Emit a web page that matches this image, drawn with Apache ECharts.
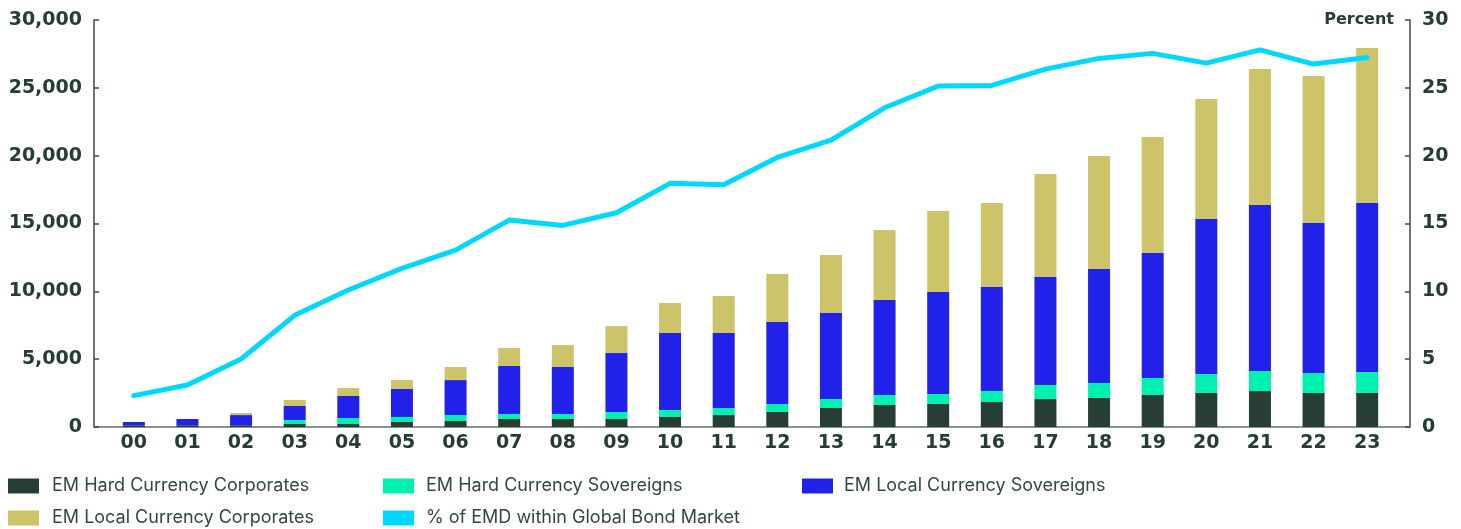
<!DOCTYPE html>
<html>
<head>
<meta charset="utf-8">
<script src="https://cdn.jsdelivr.net/npm/echarts@6/dist/echarts.min.js"></script>
<style>
  html, body { margin: 0; padding: 0; background: #fff; }
  #chart { width: 1461px; height: 529px; }
</style>
</head>
<body>
<div id="chart"></div>
<script>
var years = ['00','01','02','03','04','05','06','07','08','09','10','11','12','13','14','15','16','17','18','19','20','21','22','23']
var hardCorp = [130, 130, 130, 220, 220, 370, 440, 590, 590, 590, 740, 880, 1110, 1400, 1620, 1700, 1840, 2060, 2140, 2360, 2510, 2650, 2510, 2510]
var hardSov = [0, 0, 0, 300, 440, 370, 440, 370, 370, 520, 510, 520, 590, 660, 740, 730, 810, 1040, 1100, 1250, 1390, 1480, 1470, 1540]
var localSov = [240, 460, 750, 1030, 1630, 2060, 2580, 3540, 3460, 4340, 5680, 5530, 6040, 6340, 7000, 7520, 7670, 7960, 8410, 9220, 11430, 12230, 11060, 12460]
var localCorp = [0, 0, 150, 440, 580, 660, 960, 1320, 1620, 1990, 2210, 2730, 3540, 4280, 5160, 5970, 6190, 7590, 8320, 8540, 8840, 10020, 10830, 11420]
var emdShare = [2.31, 3.1, 5.01, 8.23, 10.1, 11.69, 13.04, 15.25, 14.86, 15.79, 17.96, 17.86, 19.87, 21.15, 23.53, 25.13, 25.18, 26.38, 27.17, 27.54, 26.82, 27.8, 26.75, 27.24]
var leftTicks = [0, 30000, 5000]
var rightTicks = [0, 30, 5]

var ink = '#263d33'
var axisFont = { color: ink, fontFamily: 'DejaVu Sans', fontWeight: 'bold', fontSize: 19 }
var legendText = { color: '#2e4a3d', fontFamily: 'Inter', fontSize: 18, lineHeight: 18 }

var myChart = echarts.init(document.getElementById('chart'))
myChart.setOption({
  animation: false,
  grid: [
    { left: 107, right: 67, top: 20, bottom: 102 },
    { left: 94, right: 51, top: 20, bottom: 102 }
  ],
  legend: [
    {
      orient: 'vertical', left: 8, top: 477, padding: 0, icon: 'rect', itemWidth: 31, itemHeight: 15, itemGap: 14,
      textStyle: Object.assign({ padding: [0, 0, 0, 8] }, legendText),
      data: ['EM Hard Currency Corporates', 'EM Local Currency Corporates']
    },
    {
      orient: 'vertical', left: 383, top: 477, padding: 0, icon: 'rect', itemWidth: 31, itemHeight: 15, itemGap: 14,
      textStyle: Object.assign({ padding: [0, 0, 0, 7] }, legendText),
      data: ['EM Hard Currency Sovereigns', '% of EMD within Global Bond Market']
    },
    {
      orient: 'vertical', left: 802, top: 477, padding: 0, icon: 'rect', itemWidth: 31, itemHeight: 15, itemGap: 14,
      textStyle: Object.assign({ padding: [0, 0, 0, 6] }, legendText),
      data: ['EM Local Currency Sovereigns']
    }
  ],
  xAxis: [
    {
      type: 'category', gridIndex: 0, data: years,
      axisLine: { show: false },
      axisTick: { show: false },
      axisLabel: Object.assign({ margin: 7 }, axisFont)
    },
    {
      type: 'value', gridIndex: 1, min: 0, max: 1,
      axisLine: { show: true, lineStyle: { color: '#5f6f67', width: 1.5 } },
      axisTick: { show: false },
      axisLabel: { show: false },
      splitLine: { show: false }
    }
  ],
  yAxis: [
    { type: 'value', gridIndex: 0, min: leftTicks[0], max: leftTicks[1], interval: leftTicks[2], show: false },
    { type: 'value', gridIndex: 0, min: rightTicks[0], max: rightTicks[1], interval: rightTicks[2], show: false },
    {
      type: 'value', gridIndex: 1, position: 'left', min: leftTicks[0], max: leftTicks[1], interval: leftTicks[2],
      axisLine: { show: true, lineStyle: { color: '#3d4d45', width: 1.5 } },
      axisTick: { show: true, inside: true, length: 5, lineStyle: { color: '#3d4d45', width: 1.5 } },
      splitLine: { show: false },
      axisLabel: Object.assign({ margin: 12, formatter: function (v) { return v.toLocaleString('en-US') } }, axisFont)
    },
    {
      type: 'value', gridIndex: 1, position: 'right', min: rightTicks[0], max: rightTicks[1], interval: rightTicks[2],
      name: 'Percent', nameLocation: 'end', nameGap: 0,
      nameTextStyle: { color: ink, fontFamily: 'DejaVu Sans', fontWeight: 'bold', fontSize: 16, align: 'right', verticalAlign: 'middle', padding: [0, 16, 0, 0] },
      axisLine: { show: true, lineStyle: { color: '#3d4d45', width: 1.5 } },
      axisTick: { show: true, inside: true, length: 5, lineStyle: { color: '#3d4d45', width: 1.5 } },
      splitLine: { show: false },
      axisLabel: Object.assign({ margin: 12 }, axisFont)
    }
  ],
  series: [
    { name: 'EM Hard Currency Corporates', type: 'bar', stack: 'emd', barWidth: 22, xAxisIndex: 0, yAxisIndex: 0, color: '#263e33', data: hardCorp },
    { name: 'EM Hard Currency Sovereigns', type: 'bar', stack: 'emd', barWidth: 22, xAxisIndex: 0, yAxisIndex: 0, color: '#00f0b0', data: hardSov },
    { name: 'EM Local Currency Sovereigns', type: 'bar', stack: 'emd', barWidth: 22, xAxisIndex: 0, yAxisIndex: 0, color: '#2121ea', data: localSov },
    { name: 'EM Local Currency Corporates', type: 'bar', stack: 'emd', barWidth: 22, xAxisIndex: 0, yAxisIndex: 0, color: '#cdc369', data: localCorp },
    {
      name: '% of EMD within Global Bond Market', type: 'line', xAxisIndex: 0, yAxisIndex: 1, z: 5,
      color: '#00d8ff', showSymbol: false, symbol: 'none',
      lineStyle: { width: 5, cap: 'round', join: 'round' },
      data: emdShare
    }
  ]
})
</script>
</body>
</html>
